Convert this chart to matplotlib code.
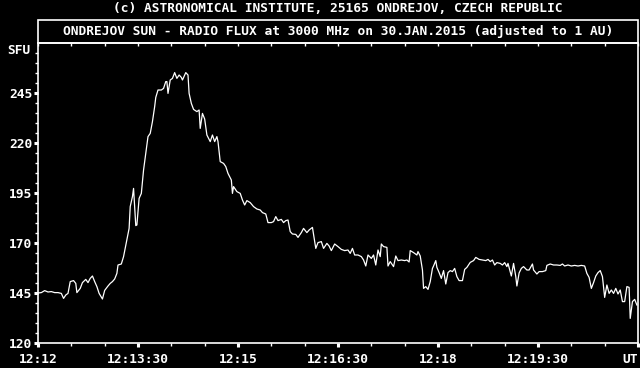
import matplotlib
matplotlib.use('Agg')
import matplotlib.pyplot as plt
from matplotlib.patches import Rectangle
import numpy as np

# seconds after 12:12:00 UT
t_sec = [0, 3, 6, 9, 12, 15, 18, 21, 23, 25, 27, 29, 32, 34, 35, 38, 40, 43, 45, 47,
         49, 51, 53, 55, 58, 60, 63, 65, 67, 69, 71, 72, 75, 77, 78, 80, 82, 83, 85, 86,
         87, 88, 89, 91, 93, 95, 97, 99, 101, 103, 105, 106, 108, 111, 113, 115, 116, 117, 119, 121,
         123, 125, 127, 129, 130, 132, 133, 135, 136, 138, 140, 143, 145, 146, 148, 150, 152, 155, 157, 159,
         161, 162, 164, 167, 169, 171, 174, 175, 176, 179, 182, 184, 186, 188, 191, 194, 197, 200, 202, 205,
         207, 210, 212, 214, 216, 219, 221, 223, 225, 227, 229, 232, 234, 237, 239, 242, 244, 247, 249, 250,
         252, 255, 257, 260, 262, 264, 267, 270, 273, 276, 279, 281, 283, 285, 288, 291, 293, 295, 297, 300,
         302, 304, 306, 308, 309, 311, 314, 315, 317, 320, 322, 324, 327, 330, 332, 334, 335, 338, 341, 342,
         344, 346, 347, 349, 351, 353, 355, 356, 358, 359, 361, 363, 365, 367, 369, 371, 373, 375, 377, 379,
         382, 384, 386, 389, 392, 394, 397, 400, 403, 405, 407, 409, 411, 413, 416, 418, 420, 422, 423, 426,
         428, 430, 431, 433, 435, 437, 440, 442, 445, 446, 449, 451, 454, 457, 458, 461, 464, 467, 470, 472,
         474, 477, 480, 483, 486, 489, 492, 494, 496, 498, 500, 502, 504, 506, 508, 510, 512, 514, 516, 518,
         520, 522, 524, 526, 528, 530, 532, 533, 535, 537, 539]

# flux in SFU
flux = [145.0, 145.2, 146.2, 145.5, 145.7, 145.2, 145.2, 144.8, 142.3, 144.0, 144.8, 150.7, 151.2, 149.8, 145.2, 147.3, 150.2, 151.8, 150.2, 152.3,
        153.5, 150.7, 148.2, 144.8, 142.0, 146.3, 148.5, 149.8, 150.7, 152.0, 154.8, 159.0, 159.5, 163.2, 166.0, 171.5, 177.3, 188.2, 193.2, 197.3,
        188.2, 178.7, 179.0, 192.3, 194.8, 206.5, 214.8, 223.2, 224.8, 230.7, 238.2, 242.8, 246.5, 246.5, 247.3, 250.7, 250.7, 244.8, 251.5, 252.3,
        255.2, 252.3, 254.0, 252.8, 251.5, 254.0, 255.2, 254.0, 244.8, 239.8, 236.8, 235.7, 236.5, 227.3, 234.8, 232.0, 224.0, 220.7, 224.0, 220.7,
        223.2, 220.7, 210.7, 209.8, 208.2, 204.8, 201.5, 194.8, 198.2, 195.7, 194.8, 191.5, 189.0, 191.2, 190.2, 188.2, 187.0, 186.5, 185.2, 184.5,
        180.2, 180.2, 180.7, 183.2, 181.2, 181.8, 180.2, 181.2, 181.5, 175.7, 174.5, 174.3, 172.8, 175.2, 177.3, 175.2, 176.5, 177.8, 170.7, 167.3,
        170.2, 170.7, 167.3, 169.8, 168.5, 166.2, 169.5, 168.2, 166.8, 166.2, 166.5, 164.8, 167.3, 164.0, 164.0, 163.2, 161.5, 158.5, 164.0, 162.3,
        164.0, 159.0, 166.5, 163.2, 169.5, 168.2, 167.8, 158.5, 160.7, 158.2, 163.5, 161.2, 161.5, 161.2, 161.5, 160.5, 166.2, 165.2, 164.0, 165.7,
        163.5, 156.5, 147.3, 148.2, 146.8, 150.7, 157.3, 158.5, 161.2, 157.8, 155.2, 152.3, 156.2, 149.5, 155.2, 156.2, 155.7, 157.3, 153.2, 151.2,
        151.2, 156.8, 157.8, 160.3, 161.2, 162.8, 161.8, 161.5, 161.2, 161.8, 160.7, 161.5, 159.0, 160.2, 159.8, 159.0, 160.2, 158.2, 159.8, 153.5,
        159.8, 153.2, 148.5, 155.0, 157.3, 158.2, 156.5, 156.5, 159.5, 156.5, 154.5, 155.7, 155.7, 156.2, 158.8, 159.5, 159.0, 159.0, 158.8, 159.5,
        158.5, 159.0, 158.5, 158.8, 158.5, 158.8, 158.5, 154.8, 152.8, 147.3, 150.2, 153.5, 155.2, 156.2, 153.2, 142.8, 149.0, 144.8, 146.5, 144.8,
        147.3, 144.5, 146.5, 140.7, 140.7, 148.2, 147.8, 132.3, 140.7, 141.8, 139.0]

x_ticks = [0, 90, 180, 270, 360, 450, 540]
x_labels = ['12:12', '12:13:30', '12:15', '12:16:30', '12:18', '12:19:30', 'UT']
y_ticks = [120, 145, 170, 195, 220, 245]

title_top = '(c) ASTRONOMICAL INSTITUTE, 25165 ONDREJOV, CZECH REPUBLIC'
title_box = 'ONDREJOV SUN - RADIO FLUX at 3000 MHz on 30.JAN.2015 (adjusted to 1 AU)'

plt.rcParams['font.family'] = 'DejaVu Sans Mono'
plt.rcParams['font.weight'] = 'bold'
fs = 9.3

W, H = 640, 368
fig = plt.figure(figsize=(W / 100, H / 100), dpi=100, facecolor='black')
ax = fig.add_axes([38 / W, 1 - 343 / H, 600 / W, 300 / H], facecolor='black')

ax.plot(t_sec, flux, color='white', lw=0.9)

ax.set_xlim(0, 540)
ax.set_ylim(120, 270)
for s in ax.spines.values():
    s.set_color('white')
    s.set_linewidth(1.2)

ax.set_xticks(x_ticks)
ax.set_xticklabels(x_labels)
ax.set_xticks(np.arange(0, 541, 30), minor=True)
ax.set_yticks(y_ticks)
ax.set_yticks(np.arange(120, 270, 5), minor=True)
ax.tick_params(axis='both', which='both', colors='white', labelsize=fs)
ax.tick_params(axis='x', which='major', direction='out', length=3, width=2.2, pad=4)
ax.tick_params(axis='x', which='minor', direction='out', length=2, width=1)
ax.tick_params(axis='y', which='major', direction='out', length=3, width=2.2, pad=1)
ax.tick_params(axis='y', which='minor', direction='out', length=2, width=1)
labels = ax.get_xticklabels()
labels[-1].set_horizontalalignment('right')
labels[-1].set_x(540)

# small inward ticks along the top edge
top = ax.secondary_xaxis('top')
top.set_xticks(np.arange(0, 541, 30))
top.set_xticklabels([])
top.tick_params(direction='in', length=2, width=1, colors='white')
top.spines['top'].set_visible(False)

# title box above the plot
fig.add_artist(Rectangle((38 / W, 1 - 43 / H), 600 / W, 23 / H, transform=fig.transFigure,
                         fill=False, edgecolor='white', lw=1.2))
fig.text(338 / W, 1 - 31 / H, title_box, color='white', fontsize=fs, ha='center', va='center')
fig.text(338 / W, 1 - 9 / H, title_top, color='white', fontsize=fs, ha='center', va='center')
fig.text(31 / W, 1 - 51 / H, 'SFU', color='white', fontsize=fs, ha='right', va='center')

fig.savefig('out.png', dpi=100, facecolor='black')
